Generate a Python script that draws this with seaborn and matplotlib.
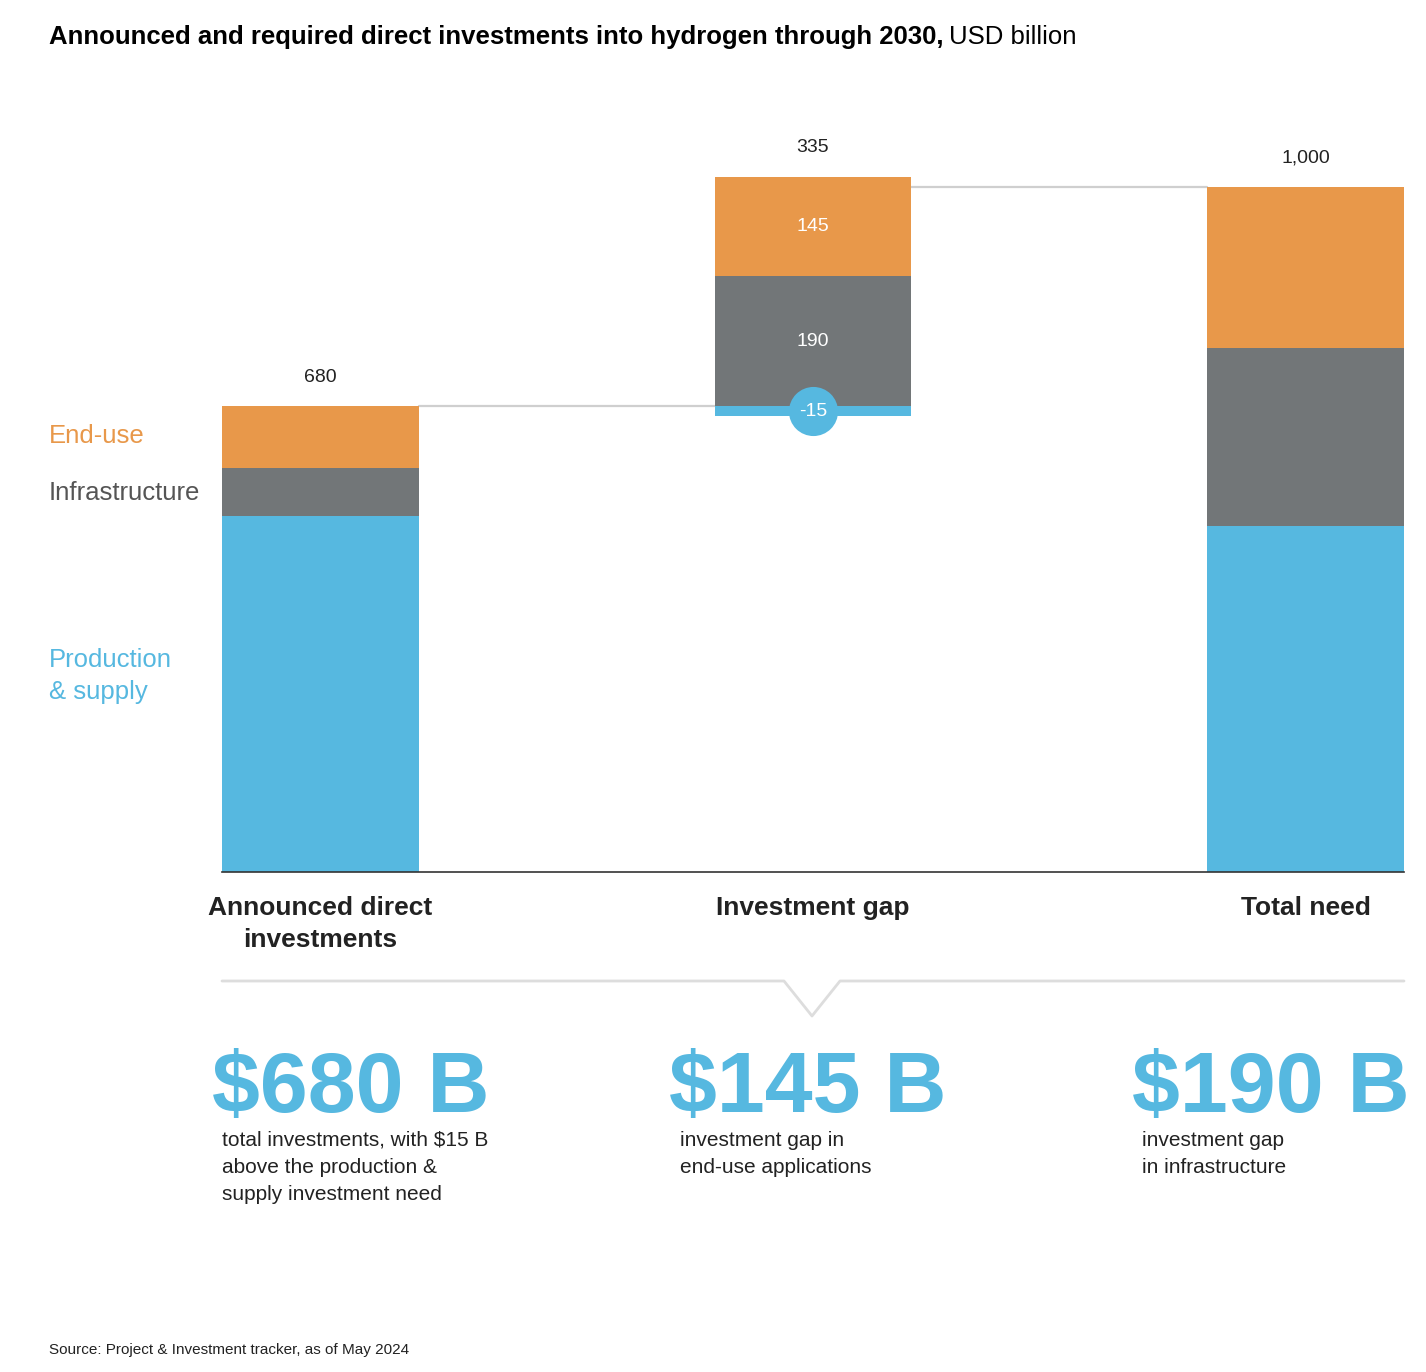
import matplotlib
matplotlib.use("Agg")
import matplotlib.pyplot as plt
import pandas as pd
import seaborn as sns

# Data (USD billion)
steps = ["Announced direct\ninvestments", "Investment gap", "Total need"]
components = ["Production & supply", "Infrastructure", "End-use"]
announced = [520, 70, 90]
gap = [-15, 190, 145]
total_need = [505, 260, 235]
step_totals = ["680", "335", "1,000"]

big_numbers = ["$680 B", "$145 B", "$190 B"]
big_notes = [
    "total investments, with $15 B\nabove the production &\nsupply investment need",
    "investment gap in\nend-use applications",
    "investment gap\nin infrastructure",
]

COLORS = {"Production & supply": "#56B8E0", "Infrastructure": "#727678", "End-use": "#E8984A"}
TEXT = "#222222"
LINE = "#cfcfcf"

sns.set_style("white")
plt.rcParams["font.family"] = ["Liberation Sans", "DejaVu Sans"]

# waterfall: cumulative tops of each layer per step
ann_start = 0
gap_start = sum(announced) + gap[0]  # 665
need_start = 0


def tops(start, vals):
    out, run = [], start
    for v in vals:
        run += abs(v)
        out.append(run)
    return out


ann_tops = tops(ann_start, announced)
gap_tops = tops(gap_start, gap)
need_tops = tops(need_start, total_need)

rows = []
for i, comp in enumerate(components):
    rows.append({"step": steps[0], "component": comp, "top": ann_tops[i]})
    rows.append({"step": steps[1], "component": comp, "top": gap_tops[i]})
    rows.append({"step": steps[2], "component": comp, "top": need_tops[i]})
df = pd.DataFrame(rows)

fig = plt.figure(figsize=(14.26, 13.72), dpi=100)
W, H = 1426, 1372
ax = fig.add_axes([222 / W, 1 - 872 / H, (1404 - 222) / W, (872 - 100) / H])

# draw from top layer down so lower layers overwrite
for comp in reversed(components):
    sub = df[df["component"] == comp]
    sns.barplot(data=sub, x="step", y="top", order=steps, color=COLORS[comp],
                width=0.4, saturation=1, ax=ax, zorder=2, linewidth=0)
# invisible base under the gap bar
base = pd.DataFrame({"step": [steps[1]], "top": [gap_start]})
sns.barplot(data=base, x="step", y="top", order=steps, color="white",
            width=0.4, saturation=1, ax=ax, zorder=2, linewidth=0)

ax.set_xlim(-0.2, 2.2)
ax.set_ylim(0, (872 - 100) / 0.685)
ax.set_ylabel("")
ax.set_xlabel("")
ax.set_yticks([])
for s in ["top", "right", "left"]:
    ax.spines[s].set_visible(False)
ax.spines["bottom"].set_color("#333333")
ax.spines["bottom"].set_linewidth(1.2)
ax.set_xticks(range(3))
ax.set_xticklabels(steps, fontsize=19, fontweight="bold", color=TEXT, linespacing=1.45)
ax.tick_params(axis="x", length=0, pad=17)

# connectors
ax.plot([0.2, 0.8], [sum(announced)] * 2, color=LINE, lw=1.6, zorder=1)
ax.plot([1.2, 1.8], [sum(total_need)] * 2, color=LINE, lw=1.6, zorder=1)

# totals above bars
bar_tops = [ann_tops[-1], gap_tops[-1], need_tops[-1]]
for i, lab in enumerate(step_totals):
    ax.annotate(lab, (i, bar_tops[i]), xytext=(0, 21), textcoords="offset points",
                ha="center", va="center", fontsize=14, color=TEXT)

# labels inside gap bar
ax.text(1, (gap_tops[1] + gap_tops[2]) / 2, str(gap[2]), ha="center", va="center",
        fontsize=14, color="white")
ax.text(1, (gap_tops[0] + gap_tops[1]) / 2, str(gap[1]), ha="center", va="center",
        fontsize=14, color="white")
ax.scatter([1], [(gap_start + gap_tops[0]) / 2], s=1250, color=COLORS["Production & supply"],
           zorder=4, clip_on=False, linewidths=0)
ax.text(1, (gap_start + gap_tops[0]) / 2, str(gap[0]), ha="center", va="center",
        fontsize=14, color="white", zorder=5)


def fy(y):
    return 1 - y / H


def fx(x):
    return x / W


# title
t = fig.text(fx(49), fy(37), "Announced and required direct investments into hydrogen through 2030,",
             fontsize=18.5, fontweight="bold", color="black", va="center", ha="left")
fig.canvas.draw()
bb = t.get_window_extent()
fig.text(bb.x1 / W + 0.004, fy(37), "USD billion", fontsize=18.5, color="black",
         va="center", ha="left")

# legend labels on the left
fig.text(fx(49), fy(436), "End-use", fontsize=18.5, color=COLORS["End-use"], va="center")
fig.text(fx(49), fy(493), "Infrastructure", fontsize=18.5, color="#555555", va="center")
fig.text(fx(49), fy(676), "Production\n& supply", fontsize=18.5,
         color=COLORS["Production & supply"], va="center", linespacing=1.45)

# divider with notch
fig.add_artist(plt.Line2D([fx(222), fx(784), fx(812), fx(840), fx(1404)],
                          [fy(981), fy(981), fy(1016), fy(981), fy(981)],
                          color="#dddddd", lw=2))

# big numbers
big_x = [212, 669, 1132]
note_x = [222, 680, 1142]
for bx, nx, num, note in zip(big_x, note_x, big_numbers, big_notes):
    fig.text(fx(bx), fy(1090), num, fontsize=62, fontweight="bold",
             color=COLORS["Production & supply"], va="center", ha="left")
    fig.text(fx(nx), fy(1131), note, fontsize=15, color=TEXT, va="top", ha="left",
             linespacing=1.55)

fig.text(fx(49), fy(1350), "Source: Project & Investment tracker, as of May 2024",
         fontsize=11, color=TEXT, va="center")

fig.savefig("out.png", dpi=100)
